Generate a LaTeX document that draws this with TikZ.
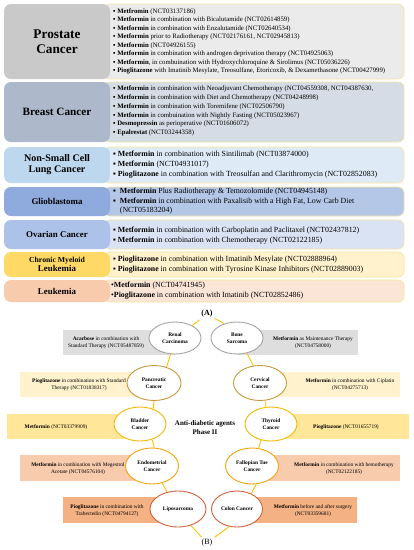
\documentclass[tikz,border=0pt]{standalone}
\usepackage{fontspec}
\setmainfont{Liberation Serif}[BoldFont={Liberation Serif Bold},ItalicFont={Liberation Serif Italic}]
\usetikzlibrary{shapes.geometric}
\newlength\fitw
\newcommand\fitsize[3]{%
  \settowidth\fitw{\fontsize{10}{12}\selectfont #1}%
  \pgfmathsetmacro\fitsz{10*#2/\fitw}%
  \fontsize{\fitsz}{#3}\selectfont}
\definecolor{l1}{HTML}{C9C9C9}\definecolor{r1}{HTML}{EBEBEB}
\definecolor{l2}{HTML}{ADB9CA}\definecolor{r2}{HTML}{D6DCE5}
\definecolor{l3}{HTML}{BDD7EE}\definecolor{r3}{HTML}{DEEBF7}
\definecolor{l4}{HTML}{8FAADC}\definecolor{r4}{HTML}{B4C7E7}
\definecolor{l5}{HTML}{ADC2E8}\definecolor{r5}{HTML}{DAE3F3}
\definecolor{l6}{HTML}{FFD966}\definecolor{r6}{HTML}{FFF2CC}
\definecolor{l7}{HTML}{F8CBAD}\definecolor{r7}{HTML}{FBE5D6}
\definecolor{rborder}{HTML}{F5E3A0}
\definecolor{bgray}{HTML}{DEDEDE}\definecolor{bylight}{HTML}{FFF2CC}
\definecolor{byel}{HTML}{FFE699}\definecolor{bsalm}{HTML}{F8CBAD}
\definecolor{borange}{HTML}{F4B183}
\definecolor{egray}{HTML}{A5A5A5}\definecolor{egold}{HTML}{C49A3C}
\definecolor{eyel}{HTML}{F5B800}\definecolor{eorng}{HTML}{F0A30A}
\definecolor{ered}{HTML}{D2603A}\definecolor{conn}{HTML}{FFC000}
\begin{document}
\begin{tikzpicture}[x=1pt,y=-1pt,
  lbox/.style={rounded corners=7pt,draw=none,inner sep=0pt,align=center},
  rbox/.style={rounded corners=6pt,draw=rborder,line width=0.6pt,inner sep=0pt,minimum width=300pt},
  rtext/.style={anchor=west,inner sep=0pt,align=left},
  bbox/.style={draw=none,inner sep=0pt,minimum height=25pt},
  btext/.style={inner sep=0pt,align=center,font=\fontsize{5.4}{6.8}\selectfont},
  ell/.style={ellipse,fill=white,line width=0.9pt,inner sep=0pt,align=center,font=\fontsize{5.4}{7.4}\selectfont\bfseries},
  conline/.style={draw=conn,line width=0.9pt}]
\useasboundingbox (0,0) rectangle (414,550);
\fill[white] (0,0) rectangle (414,550);
% ---------- (A) table ----------
\node[rbox,fill=r1,minimum height=75pt] (r1) at (254,41.5) {};
\node[rbox,fill=r2,minimum height=60pt] (r2) at (254,112) {};
\node[rbox,fill=r3,minimum height=36pt] (r3) at (254,165) {};
\node[rbox,fill=r4,minimum height=29pt] (r4) at (254,201.5) {};
\node[rbox,fill=r5,minimum height=29pt] (r5) at (254,234.5) {};
\node[rbox,fill=r6,minimum height=25pt] (r6) at (254,264.5) {};
\node[rbox,fill=r7,minimum height=22pt] (r7) at (254,291) {};
\node[lbox,fill=l1,minimum width=106pt,minimum height=75pt,font=\fontsize{13.3}{15}\selectfont\bfseries] (l1) at (57,41.5) {Prostate\\Cancer};
\node[lbox,fill=l2,minimum width=106pt,minimum height=60pt,font=\fontsize{11.2}{13}\selectfont\bfseries] (l2) at (57,112) {Breast Cancer};
\node[lbox,fill=l3,minimum width=106pt,minimum height=36pt,font=\fontsize{10.1}{11}\selectfont\bfseries] (l3) at (57,165) {Non-Small Cell\\Lung Cancer};
\node[lbox,fill=l4,minimum width=106pt,minimum height=29pt,font=\fontsize{8.9}{10}\selectfont\bfseries] (l4) at (57,201.5) {Glioblastoma};
\node[lbox,fill=l5,minimum width=106pt,minimum height=29pt,font=\fontsize{8.9}{10}\selectfont\bfseries] (l5) at (57,234.5) {Ovarian Cancer};
\node[lbox,fill=l6,minimum width=106pt,minimum height=25pt,font=\fontsize{8.9}{9.5}\selectfont\bfseries] (l6) at (57,264.5) {{\fontsize{7.7}{9}\selectfont Chronic Myeloid}\\Leukemia};
\node[lbox,fill=l7,minimum width=106pt,minimum height=22pt,font=\fontsize{8.9}{10}\selectfont\bfseries] (l7) at (57,291) {Leukemia};
\node[rtext,font=\fitsize{▪ \textbf{Pioglitazone} with Imatinib Mesylate, Treosulfane, Etoricoxib, \& Dexamethasone (NCT00427999)}{272}{8.5}] (t1) at (113,41.5) {%
▪ \textbf{Metfromin} (NCT03137186)\\
▪ \textbf{Metformin} in combination with Bicalutamide (NCT02614859)\\
▪ \textbf{Metformin} in combination with Enzalutamide (NCT02640534)\\
▪ \textbf{Metformin} prior to Radiotherapy (NCT02176161, NCT02945813)\\
▪ \textbf{Metformin} (NCT04926155)\\
▪ \textbf{Metformin} in combination with androgen deprivation therapy (NCT04925063)\\
▪ \textbf{Metformin}, in combuination with Hydroxychloroquine \& Sirolimus (NCT05036226)\\
▪ \textbf{Pioglitazone} with Imatinib Mesylate, Treosulfane, Etoricoxib, \& Dexamethasone (NCT00427999)};
\node[rtext,font=\fitsize{▪ \textbf{Metformin} in combination with Neoadjuvant Chemotherapy (NCT04559308, NCT04387630,}{260}{8.7}] (t2) at (113,111) {%
▪ \textbf{Metformin} in combination with Neoadjuvant Chemotherapy (NCT04559308, NCT04387630,\\
▪ \textbf{Metformin} in combination with Diet and Chemotherapy (NCT04248998)\\
▪ \textbf{Metformin} in combination with Toremifene (NCT02506790)\\
▪ \textbf{Metformin} in combuination with Nightly Fasting (NCT05023967)\\
▪ \textbf{Desmopressin} as perioperative (NCT01606072)\\
▪ \textbf{Epalrestat} (NCT03244358)};
\node[rtext,font=\fitsize{▪ \textbf{Pioglitazone} in combination with Treosulfan and Clarithromycin (NCT02852083)}{264}{10}] (t3) at (113,165) {%
▪ \textbf{Metformin} in combination with Sintilimab (NCT03874000)\\
▪ \textbf{Metformin} (NCT04931017)\\
▪ \textbf{Pioglitazone} in combination with Treosulfan and Clarithromycin (NCT02852083)};
\node[rtext,font=\fitsize{▪\hspace{0.5em}\textbf{Metformin} in combination with Paxalisib with a High Fat, Low Carb Diet}{241}{9.5}] (t4) at (113,201.5) {%
▪\hspace{0.5em}\textbf{Metformin} Plus Radiotherapy \& Temozolomide (NCT04945148)\\
▪\hspace{0.5em}\textbf{Metformin} in combination with Paxalisib with a High Fat, Low Carb Diet\\
\phantom{▪}\hspace{0.5em}(NCT05183204)};
\node[rtext,font=\fitsize{▪ \textbf{Metformin} in combination with Carboplatin and Paclitaxel (NCT02437812)}{246}{10}] (t5) at (113,235.5) {%
▪ \textbf{Metformin} in combination with Carboplatin and Paclitaxel (NCT02437812)\\
▪ \textbf{Metformin} in combination with Chemotherapy (NCT02122185)};
\node[rtext,font=\fitsize{▪ \textbf{Pioglitazone} in combination with Tyrosine Kinase Inhibitors (NCT02889003)}{250}{10}] (t6) at (113,264.5) {%
▪ \textbf{Pioglitazone} in combination with Imatinib Mesylate (NCT02888964)\\
▪ \textbf{Pioglitazone} in combination with Tyrosine Kinase Inhibitors (NCT02889003)};
\node[rtext,font=\fitsize{•\textbf{Pioglitazone} in combination with Imatinib (NCT02852486)}{192}{10}] (t7) at (111,291) {%
•\textbf{Metformin} (NCT04741945)\\
•\textbf{Pioglitazone} in combination with Imatinib (NCT02852486)};
% ---------- (B) ----------
\node[font=\fontsize{8}{9}\selectfont\bfseries,inner sep=2pt] (A) at (207,314) {(A)};
\node[font=\fontsize{8}{9}\selectfont,inner sep=2pt] (B) at (207,543) {(B)};
\node[bbox,fill=bgray,minimum width=112pt] (renalbox) at (119,342.5) {};
\node[bbox,fill=bgray,minimum width=121pt] (bonebox) at (297.5,342.5) {};
\node[bbox,fill=bylight,minimum width=134pt] (pancbox) at (87,384.5) {};
\node[bbox,fill=bylight,minimum width=140pt] (cervbox) at (330,384.5) {};
\node[bbox,fill=byel,minimum width=133pt] (bladbox) at (73.5,426.5) {};
\node[bbox,fill=byel,minimum width=138pt] (thyrbox) at (340,426.5) {};
\node[bbox,fill=bsalm,minimum width=132pt,minimum height=26pt] (endobox) at (86,468) {};
\node[bbox,fill=bsalm,minimum width=148pt,minimum height=26pt] (fallbox) at (326,468) {};
\node[bbox,fill=borange,minimum width=115pt,minimum height=26pt] (lipobox) at (120.5,510) {};
\node[bbox,fill=borange,minimum width=120pt,minimum height=26pt] (colobox) at (297,510) {};
\node[btext] (renaltxt) at (106,343) {\textbf{Acarbose} in combination with\\Standard Therapy (NCT05487859)};
\node[btext] (bonetxt) at (313,343) {\textbf{Metformin} as Maintenance Therapy\\(NCT04758000)};
\node[btext] (panctxt) at (79,385) {\textbf{Pioglitazone} in combination with Standard\\Therapy (NCT01838317)};
\node[btext] (cervtxt) at (350,385) {\textbf{Metformin} in combination with Ciplatin\\(NCT04275713)};
\node[btext] (bladtxt) at (56,427) {\textbf{Metformin} (NCT03379909)};
\node[btext] (thyrtxt) at (346,427) {\textbf{Pioglitazone} (NCT01655719)};
\node[btext] (endotxt) at (78,468.5) {\textbf{Metformin} in combination with Megestrol\\Acetate (NCT04576104)};
\node[btext] (falltxt) at (344,468.5) {\textbf{Metformin} in combination with hemotherapy\\(NCT02122185)};
\node[btext] (lipotxt) at (107,510.5) {\textbf{Pioglitazone} in combination with\\Trabectedin (NCT04794127)};
\node[btext] (colotxt) at (313,510.5) {\textbf{Metformin} before and after surgery\\(NCT03359681)};
\node[ell,draw=egray,minimum width=52pt,minimum height=32pt] (renal) at (175,338) {Renal\\Carcinoma};
\node[ell,draw=egray,minimum width=52pt,minimum height=32pt] (bone) at (237,338) {Bone\\Sarcoma};
\node[ell,draw=egold,minimum width=54pt,minimum height=35pt] (panc) at (154,383) {Pancreatic\\Cancer};
\node[ell,draw=egold,minimum width=53pt,minimum height=35pt] (cerv) at (260,383) {Cervical\\Cancer};
\node[ell,draw=eyel,minimum width=52pt,minimum height=34pt] (blad) at (140,424) {Bladder\\Cancer};
\node[ell,draw=eyel,minimum width=52pt,minimum height=34pt] (thyr) at (271,424) {Thyroid\\Cancer};
\node[ell,draw=eorng,minimum width=53pt,minimum height=36pt] (endo) at (152,466) {Endometrial\\Cancer};
\node[ell,draw=eorng,minimum width=53pt,minimum height=36pt] (fall) at (252,466) {Fallopian Tue\\Cancer};
\node[ell,draw=ered,minimum width=56pt,minimum height=36pt] (lipo) at (178,509) {Liposarcoma};
\node[ell,draw=ered,minimum width=51pt,minimum height=36pt] (colo) at (237,509) {Colon Cancer};
\node[inner sep=0pt,align=center,font=\fontsize{7}{9}\selectfont\bfseries] (center) at (205,428) {Anti-diabetic agents\\Phase II};
\draw[conline] (A) -- (renal.36);
\draw[conline] (A) -- (bone.132);
\draw[conline] (renal.-105) -- (panc.52);
\draw[conline] (bone.-57) -- (cerv.111);
\draw[conline] (panc.-90) -- (blad.49);
\draw[conline] (cerv.-72) -- (thyr.107);
\draw[conline] (blad.-52) -- (endo.83);
\draw[conline] (thyr.-122) -- (fall.69);
\draw[conline] (endo.-59) -- (lipo.123);
\draw[conline] (fall.-77) -- (colo.47);
\draw[conline] (lipo.-52) -- (B);
\draw[conline] (colo.-114) -- (B);
\end{tikzpicture}
\end{document}
